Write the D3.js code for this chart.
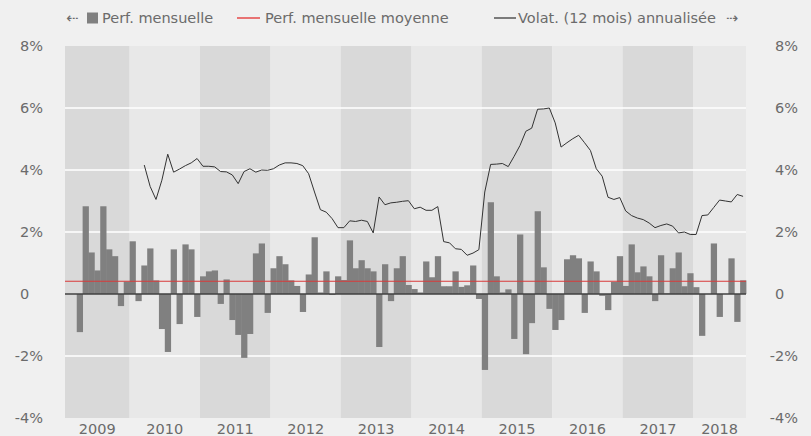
<!DOCTYPE html>
<html>
<head>
<meta charset="utf-8">
<script src="https://cdn.jsdelivr.net/npm/d3@7"></script>
<style>
  body { margin: 0; background: #f0f0f0; }
  svg { display: block; font-family: "DejaVu Sans", Verdana, sans-serif; }
</style>
</head>
<body>
<svg width="811" height="436"></svg>
<script>
// monthly categories: Feb 2009 -> Sep 2018
var months = d3.timeMonth.range(new Date(2009, 1, 1), new Date(2018, 9, 1));
var years = [2009, 2010, 2011, 2012, 2013, 2014, 2015, 2016, 2017, 2018];
var yTicks = [-4, -2, 0, 2, 4, 6, 8];

// monthly performance (%)
var perf = [
    null, null, -1.23, 2.83, 1.34, 0.76, 2.83, 1.44, 1.22, -0.39, 0.40,
    1.70, -0.23, 0.92, 1.47, 0.44, -1.13, -1.87, 1.44, -0.97, 1.60, 1.44, -0.74,
    0.57, 0.73, 0.76, -0.32, 0.47, -0.84, -1.32, -2.06, -1.29, 1.31, 1.63, -0.61,
    0.83, 1.22, 0.96, 0.44, 0.26, -0.58, 0.63, 1.83, 0.05, 0.73, -0.03, 0.57,
    0.45, 1.73, 0.83, 1.09, 0.83, 0.73, -1.71, 0.96, -0.23, 0.83, 1.22, 0.29,
    0.16, 0.05, 1.05, 0.54, 1.22, 0.25, 0.25, 0.73, 0.23, 0.28, 0.92, -0.16,
    -2.45, 2.96, 0.57, 0.05, 0.15, -1.45, 1.92, -1.94, -0.94, 2.67, 0.86, -0.48,
    -1.16, -0.84, 1.12, 1.25, 1.15, -0.61, 1.05, 0.73, -0.06, -0.52, 0.39, 1.22,
    0.26, 1.60, 0.70, 0.89, 0.57, -0.23, 1.25, 0.02, 0.83, 1.34, 0.25, 0.67,
    0.22, -1.35, 0.00, 1.63, -0.74, 0.00, 1.15, -0.90, 0.44
];

// average monthly performance (%)
var perfMean = [0.41];

// 12 month annualised volatility (%)
var vol = [
    null, null, null, null, null, null, null, null, null, null, null,
    null, null, 4.16, 3.47, 3.05, 3.67, 4.51, 3.93, 4.03, 4.14, 4.23, 4.37,
    4.12, 4.12, 4.10, 3.95, 3.94, 3.84, 3.56, 3.95, 4.04, 3.93, 4.00, 3.99,
    4.04, 4.16, 4.23, 4.23, 4.21, 4.14, 3.88, 3.29, 2.72, 2.64, 2.43, 2.14,
    2.14, 2.36, 2.34, 2.38, 2.34, 1.97, 3.13, 2.88, 2.94, 2.96, 2.99, 3.01,
    2.75, 2.80, 2.70, 2.70, 2.82, 1.69, 1.65, 1.46, 1.44, 1.25, 1.32, 1.43,
    3.29, 4.18, 4.19, 4.21, 4.11, 4.44, 4.79, 5.25, 5.35, 5.96, 5.97, 6.00,
    5.52, 4.74, 4.88, 5.01, 5.12, 4.88, 4.63, 4.04, 3.80, 3.12, 3.05, 3.11,
    2.68, 2.53, 2.45, 2.40, 2.29, 2.14, 2.21, 2.26, 2.19, 1.97, 2.00, 1.92,
    1.92, 2.53, 2.55, 2.79, 3.03, 3.00, 2.97, 3.21, 3.15
];

var svg = d3.select("svg");
var plot = {left: 65, right: 746, top: 46, bottom: 418};
var textColor = "#6b6b6b";

var x = d3.scaleBand()
    .domain(d3.range(months.length))
    .range([plot.left, plot.right])
    .padding(0);

var y = d3.scaleLinear()
    .domain([-4, 8])
    .range([plot.bottom, plot.top]);

// alternating year bands
var bands = years.map(function(yr, k) {
    var idx = d3.range(months.length).filter(function(i) { return months[i].getFullYear() === yr; });
    return {year: yr, x0: x(idx[0]), x1: x(idx[idx.length - 1]) + x.bandwidth(), shaded: k % 2 === 0};
});

svg.append("g").selectAll("rect")
    .data(bands)
    .enter().append("rect")
    .attr("x", function(d) { return d.x0; })
    .attr("width", function(d) { return d.x1 - d.x0; })
    .attr("y", plot.top)
    .attr("height", plot.bottom - plot.top)
    .attr("fill", function(d) { return d.shaded ? "#d9d9d9" : "#e8e8e8"; });

// white gridlines
svg.append("g").selectAll("line")
    .data([-2, 2, 4, 6])
    .enter().append("line")
    .attr("x1", plot.left).attr("x2", plot.right)
    .attr("y1", function(d) { return y(d); })
    .attr("y2", function(d) { return y(d); })
    .attr("stroke", "#ffffff")
    .attr("stroke-width", 1.5);

// monthly bars
svg.append("g").selectAll("rect")
    .data(perf.map(function(v, i) { return {i: i, v: v}; }).filter(function(d) { return d.v !== null; }))
    .enter().append("rect")
    .attr("x", function(d) { return x(d.i); })
    .attr("width", x.bandwidth() + 0.4)
    .attr("y", function(d) { return y(Math.max(0, d.v)); })
    .attr("height", function(d) { return Math.abs(y(d.v) - y(0)); })
    .attr("fill", "#808080");

// zero line
svg.append("line")
    .attr("x1", plot.left).attr("x2", plot.right)
    .attr("y1", y(0)).attr("y2", y(0))
    .attr("stroke", "#404040")
    .attr("stroke-width", 1.6);

// average line
svg.append("line")
    .attr("x1", plot.left).attr("x2", plot.right)
    .attr("y1", y(perfMean[0])).attr("y2", y(perfMean[0]))
    .attr("stroke", "#d93a3a")
    .attr("stroke-width", 1.1);

// volatility line
var line = d3.line()
    .defined(function(d) { return d !== null; })
    .x(function(d, i) { return x(i) + x.bandwidth() / 2; })
    .y(function(d) { return y(d); });

svg.append("path")
    .datum(vol)
    .attr("d", line)
    .attr("fill", "none")
    .attr("stroke", "#333333")
    .attr("stroke-width", 1);

// axes (labels only)
function pct(d) { return d === 0 ? "0" : d + "%"; }

function styleAxis(g) {
    g.select(".domain").remove();
    g.selectAll("text")
        .attr("fill", textColor)
        .style("font-size", "14.5px")
        .style("font-family", "'DejaVu Sans', Verdana, sans-serif");
    // keep "0" aligned as if followed by a % sign
    g.selectAll(".tick text")
        .filter(function(d) { return d === 0; })
        .append("tspan").attr("fill-opacity", 0).text("%");
}

svg.append("g")
    .attr("transform", "translate(43,0)")
    .call(d3.axisLeft(y).tickValues(yTicks).tickSize(0).tickPadding(0).tickFormat(pct))
    .call(styleAxis);

svg.append("g")
    .attr("transform", "translate(798,0)")
    .call(d3.axisLeft(y).tickValues(yTicks).tickSize(0).tickPadding(0).tickFormat(pct))
    .call(styleAxis);

// year labels
svg.append("g").selectAll("text")
    .data(bands)
    .enter().append("text")
    .attr("x", function(d) { return (d.x0 + d.x1) / 2; })
    .attr("y", 429)
    .attr("dy", "0.35em")
    .attr("text-anchor", "middle")
    .attr("fill", textColor)
    .style("font-size", "14.5px")
    .text(function(d) { return d.year; });

// legend
var legend = svg.append("g").style("font-size", "14.5px").attr("fill", textColor);

legend.append("text").attr("x", 66).attr("y", 18).attr("dy", "0.35em").text("\u21E0");
legend.append("rect").attr("x", 87).attr("y", 12.5).attr("width", 11).attr("height", 11).attr("fill", "#808080");
legend.append("text").attr("x", 102).attr("y", 18).attr("dy", "0.35em").text("Perf. mensuelle");

legend.append("line").attr("x1", 237).attr("x2", 260).attr("y1", 18).attr("y2", 18)
    .attr("stroke", "#e64a4a").attr("stroke-width", 1.5);
legend.append("text").attr("x", 265).attr("y", 18).attr("dy", "0.35em").text("Perf. mensuelle moyenne");

legend.append("line").attr("x1", 494).attr("x2", 516).attr("y1", 18).attr("y2", 18)
    .attr("stroke", "#555555").attr("stroke-width", 1.5);
legend.append("text").attr("x", 518).attr("y", 18).attr("dy", "0.35em").text("Volat. (12 mois) annualis\u00E9e");
legend.append("text").attr("x", 726).attr("y", 18).attr("dy", "0.35em").text("\u21E2");
</script>
</body>
</html>
